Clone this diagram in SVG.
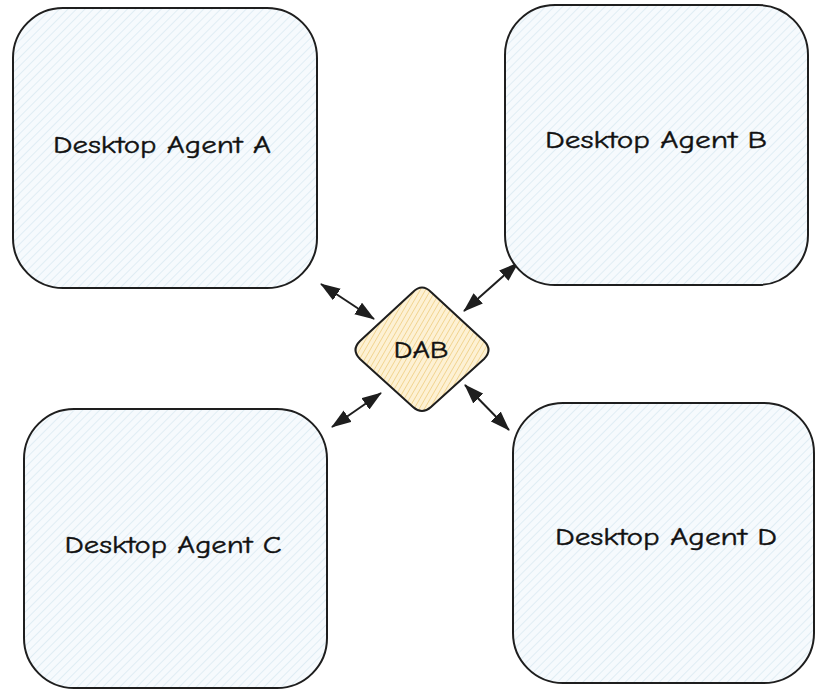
<svg xmlns="http://www.w3.org/2000/svg" width="816" height="691" viewBox="0 0 816 691">
<defs>
<style>
.box{stroke:#1e1e1e;stroke-width:2;fill:url(#hBlue)}
.lbl{font-family:"Comic Neue","Liberation Sans",sans-serif;font-size:24px;fill:#111111;text-anchor:middle;stroke:#111111;stroke-width:0.4}
.conn{stroke:#1e1e1e;stroke-width:2;fill:none;marker-start:url(#ah);marker-end:url(#ah)}
</style>
<pattern id="hBlue" patternUnits="userSpaceOnUse" width="6" height="6" patternTransform="rotate(45)">
<rect width="6" height="6" fill="#f6fafd"/>
<line x1="0" y1="0" x2="0" y2="6" stroke="#d2e5ef" stroke-width="1.2"/>
</pattern>
<pattern id="hYellow" patternUnits="userSpaceOnUse" width="4.5" height="4.5" patternTransform="rotate(30)">
<rect width="4.5" height="4.5" fill="#fdf1d4"/>
<line x1="0" y1="0" x2="0" y2="4.5" stroke="#efcf83" stroke-width="1.5"/>
</pattern>
<marker id="ah" viewBox="0 0 20 14" refX="19" refY="7" markerWidth="20" markerHeight="14" markerUnits="userSpaceOnUse" orient="auto-start-reverse">
<path d="M0,0 L20,7 L0,14 z" fill="#1e1e1e"/>
</marker>
</defs>
<rect width="816" height="691" fill="#ffffff"/>
<g id="connectors">
<line class="conn" x1="321" y1="284" x2="374" y2="319"/>
<line class="conn" x1="464" y1="311" x2="518" y2="263"/>
<line class="conn" x1="332" y1="427" x2="381" y2="393"/>
<line class="conn" x1="465" y1="385" x2="509" y2="430"/>
</g>
<g id="node-a">
<rect class="box" x="13" y="8" width="304" height="280" rx="50"/>
<text class="lbl" x="162" y="153" textLength="218" lengthAdjust="spacingAndGlyphs">Desktop Agent A</text>
</g>
<g id="node-b">
<rect class="box" x="505" y="5" width="303" height="280" rx="50"/>
<text class="lbl" x="656" y="148" textLength="222" lengthAdjust="spacingAndGlyphs">Desktop Agent B</text>
</g>
<g id="node-c">
<rect class="box" x="24" y="409" width="303" height="279" rx="50"/>
<text class="lbl" x="173" y="553" textLength="217" lengthAdjust="spacingAndGlyphs">Desktop Agent C</text>
</g>
<g id="node-d">
<rect class="box" x="513" y="403" width="301" height="280" rx="50"/>
<text class="lbl" x="666" y="545" textLength="222" lengthAdjust="spacingAndGlyphs">Desktop Agent D</text>
</g>
<g id="node-dab">
<path d="M413,292 Q422,283 431,292 L484,341 Q493,350 484,359 L431,407 Q422,415 413,407 L360,359 Q351,350 360,341 Z" fill="url(#hYellow)" stroke="#1e1e1e" stroke-width="2"/>
<text class="lbl" x="421" y="358" textLength="55" lengthAdjust="spacingAndGlyphs">DAB</text>
</g>
</svg>
